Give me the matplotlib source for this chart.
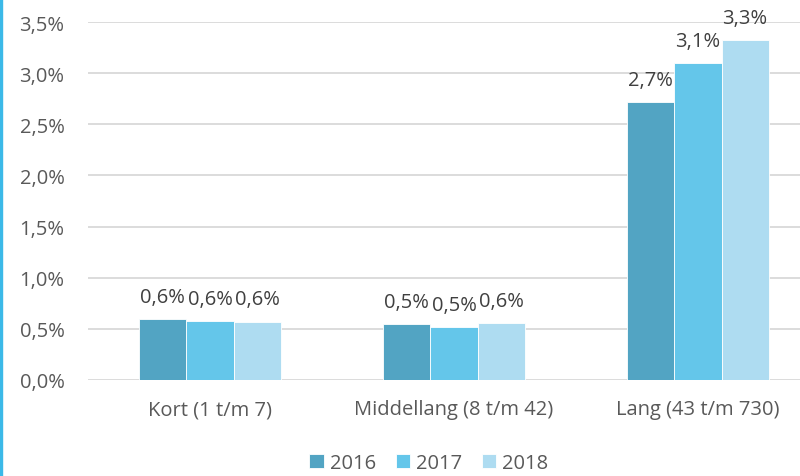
import numpy as np
import matplotlib.pyplot as plt
from matplotlib.ticker import FuncFormatter
from matplotlib.patches import Rectangle

categories = ["Kort (1 t/m 7)", "Middellang (8 t/m 42)", "Lang (43 t/m 730)"]
years = ["2016", "2017", "2018"]
values_2016 = [0.596, 0.547, 2.717]
values_2017 = [0.574, 0.518, 3.099]
values_2018 = [0.571, 0.557, 3.324]
colors = ["#52A4C3", "#64C6EA", "#AEDCF1"]

plt.rcParams['font.family'] = ['Open Sans', 'DejaVu Sans']
text_color = "#595959"
fs = 14.5

fig = plt.figure(figsize=(8, 4.77), dpi=100)
ax = fig.add_axes([88 / 800, 96 / 477, 732 / 800, 358 / 477])

x = np.arange(len(categories))
width = 0.193
series = [values_2016, values_2017, values_2018]
for i, (vals, year, col) in enumerate(zip(series, years, colors)):
    pos = x + (i - 1) * width
    bars = ax.bar(pos, vals, width, color=col, edgecolor="white", linewidth=0.6,
                  label=year, zorder=3)
    for b, v in zip(bars, vals):
        ax.text(b.get_x() + b.get_width() / 2, v + 0.12, f"{v:.1f}%".replace(".", ","),
                ha="center", va="bottom", fontsize=fs, color="#404040")

ax.set_xlim(-0.5, 2.5)
ax.set_ylim(0, 3.5)
ax.set_yticks(np.arange(0, 3.51, 0.5))
ax.yaxis.set_major_formatter(FuncFormatter(lambda v, p: f"{v:.1f}%".replace(".", ",")))
ax.set_xticks(x)
ax.set_xticklabels(categories)
ax.tick_params(axis="both", length=0, labelsize=fs, colors=text_color)
ax.tick_params(axis="y", pad=17)
ax.tick_params(axis="x", pad=14)
ax.grid(axis="y", color="#D9D9D9", linewidth=1.3, zorder=0)
for s in ax.spines.values():
    s.set_visible(False)

fig.legend(loc="center", bbox_to_anchor=(429 / 800, 1 - 464 / 477), ncol=3,
           frameon=False, fontsize=fs, labelcolor=text_color, handlelength=0.7,
           handleheight=0.7, handletextpad=0.3, columnspacing=1.0)

fig.add_artist(Rectangle((0, 0), 2 / 800, 1, transform=fig.transFigure,
                         color="#3BB9E8", zorder=10))

fig.savefig("out.png", dpi=100)
